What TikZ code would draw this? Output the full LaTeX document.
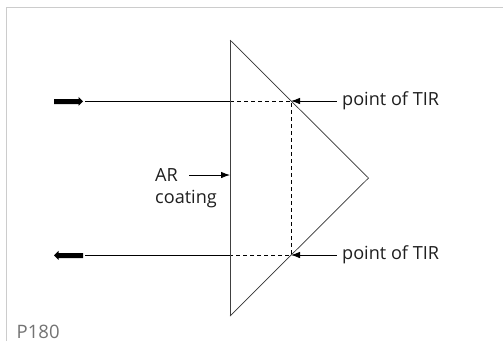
\documentclass[tikz,border=0pt]{standalone}
\usepackage{fontspec}
\setmainfont{Open Sans}
\usetikzlibrary{arrows.meta}
\definecolor{framegray}{gray}{0.8}
\definecolor{labelgray}{gray}{0.12}
\tikzset{
  x=1pt,y=-1pt,
  ray/.style={line width=0.8pt,black},
  hidden/.style={line width=0.8pt,black,dash pattern=on 4pt off 3pt},
  prism/.style={line width=0.7pt,black!80},
  pointer/.style={line width=0.8pt,black,-{Latex[length=9pt,width=6.5pt]}},
  stub/.style={fill=black,draw=none},
  lbl/.style={font=\fontsize{18.1pt}{20pt}\selectfont,text=labelgray,inner sep=0pt,anchor=base west},
}
\begin{document}
\begin{tikzpicture}
\useasboundingbox (0,0) rectangle (503,341);
\fill[white] (0,0) rectangle (503,341);
\draw[framegray,line width=1.2pt] (6.5,341) -- (6.5,7.5) -- (503,7.5);
% prism
\coordinate (pa) at (230,40);
\coordinate (pb) at (368.5,178);
\coordinate (pc) at (230,316);
\coordinate (in) at (230,101);
\coordinate (out) at (230,255);
\coordinate (t1) at (291,101);
\coordinate (t2) at (291,255);
\coordinate (s1) at (85,101);
\coordinate (s2) at (85,255);
\coordinate (c1) at (336.5,101);
\coordinate (c2) at (336.5,255);
\coordinate (c3) at (189,175);
\coordinate (c4) at (230,175);
\draw[hidden] (in) -- (t1) -- (t2) -- (out);
\draw[ray] (s1) -- (in);
\draw[ray] (s2) -- (out);
\draw[prism] (pa) -- (pb) -- (pc);
\draw[line width=1pt,black!75] (pa) -- (pc);
% thick stubs
\fill[stub] (54,99) -- (78.5,99) -- (78.5,96.8) -- (83,101.3) -- (78.5,105.8) -- (78.5,104) -- (54,104) -- cycle;
\fill[stub] (83,253) -- (58.5,253) -- (58.5,250.8) -- (54,255.3) -- (58.5,259.8) -- (58.5,258) -- (83,258) -- cycle;
% pointers
\draw[pointer] (c1) -- (t1);
\draw[pointer] (c2) -- (t2);
\draw[pointer] (c3) -- (c4);
% labels
\node[lbl] (l1) at (342,105) {point of TIR};
\node[lbl] (l2) at (342,259.5) {point of TIR};
\node[lbl] (ar) at (155,181) {AR};
\node[lbl] (co) at (155,203) {coating};
\node[lbl,text=black!55,font=\fontsize{18.5pt}{20pt}\selectfont] (pid) at (16.5,338) {P180};
\end{tikzpicture}
\end{document}
